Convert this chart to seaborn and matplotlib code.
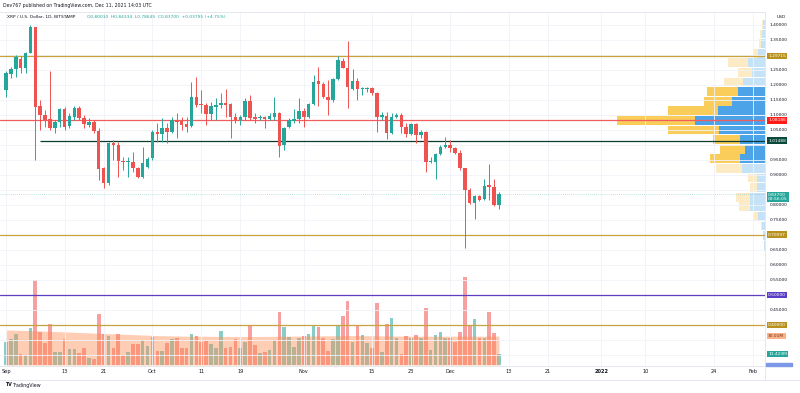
import matplotlib
matplotlib.use("Agg")
import numpy as np
import pandas as pd
import matplotlib.pyplot as plt
import matplotlib.dates as mdates
import matplotlib.transforms as mtransforms
from matplotlib.lines import Line2D
from matplotlib.patches import Rectangle
import seaborn as sns

# XRP / USD daily candles, Bitstamp, 2021-09-01 .. 2021-12-11
start_date = "2021-09-01"

opens = [1.183, 1.237, 1.253, 1.287, 1.256, 1.308, 1.392, 1.130, 1.100, 1.087,
         1.056, 1.078, 1.119, 1.063, 1.094, 1.122, 1.091, 1.067, 1.075, 1.047,
         0.922, 0.872, 1.006, 1.000, 0.947, 0.942, 0.944, 0.922, 0.892, 0.928,
         0.956, 1.042, 1.037, 1.055, 1.044, 1.083, 1.080, 1.069, 1.063, 1.161,
         1.135, 1.133, 1.102, 1.128, 1.133, 1.141, 1.136, 1.094, 1.083, 1.092,
         1.146, 1.094, 1.089, 1.094, 1.086, 1.094, 1.108, 1.000, 1.061, 1.081,
         1.086, 1.114, 1.094, 1.137, 1.213, 1.202, 1.161, 1.150, 1.219, 1.281,
         1.258, 1.187, 1.214, 1.188, 1.188, 1.189, 1.172, 1.092, 1.097, 1.039,
         1.094, 1.100, 1.061, 1.037, 1.070, 1.033, 1.044, 0.942, 0.944, 0.970,
         0.992, 1.000, 0.991, 0.972, 0.922, 0.850, 0.808, 0.830, 0.819, 0.866,
         0.859, 0.8001]
highs = [1.245, 1.261, 1.300, 1.295, 1.311, 1.400, 1.394, 1.150, 1.117, 1.245,
         1.083, 1.122, 1.126, 1.106, 1.130, 1.130, 1.100, 1.089, 1.083, 1.056,
         0.928, 1.011, 1.017, 1.011, 0.961, 0.961, 0.978, 0.928, 0.994, 0.961,
         1.050, 1.072, 1.089, 1.072, 1.094, 1.106, 1.094, 1.094, 1.211, 1.228,
         1.183, 1.139, 1.144, 1.156, 1.172, 1.186, 1.139, 1.106, 1.100, 1.156,
         1.167, 1.106, 1.100, 1.097, 1.106, 1.161, 1.111, 1.061, 1.089, 1.119,
         1.156, 1.122, 1.139, 1.233, 1.261, 1.211, 1.217, 1.222, 1.297, 1.289,
         1.348, 1.252, 1.222, 1.194, 1.194, 1.194, 1.175, 1.111, 1.111, 1.106,
         1.106, 1.106, 1.072, 1.072, 1.072, 1.050, 1.048, 0.961, 0.972, 1.000,
         1.028, 1.017, 0.994, 0.983, 0.922, 0.856, 0.833, 0.833, 0.886, 0.937,
         0.887, 0.84334]
lows = [1.161, 1.222, 1.226, 1.239, 1.239, 1.306, 0.950, 1.050, 1.061, 1.050,
        1.039, 1.061, 1.050, 1.056, 1.083, 1.083, 1.056, 1.061, 1.039, 0.883,
        0.856, 0.867, 0.950, 0.894, 0.917, 0.894, 0.911, 0.889, 0.889, 0.922,
        0.950, 1.011, 1.011, 1.006, 1.039, 1.022, 1.050, 1.044, 1.061, 1.128,
        1.106, 1.067, 1.083, 1.083, 1.122, 1.094, 1.022, 1.072, 1.067, 1.083,
        1.083, 1.072, 1.083, 1.056, 1.083, 1.083, 0.961, 0.983, 1.056, 1.072,
        1.072, 1.061, 1.089, 1.133, 1.130, 1.156, 1.100, 1.144, 1.217, 1.256,
        1.122, 1.183, 1.150, 1.167, 1.178, 1.167, 1.044, 1.083, 1.019, 1.036,
        1.089, 1.039, 1.028, 1.033, 1.006, 1.022, 0.911, 0.939, 0.887, 0.967,
        0.989, 0.978, 0.969, 0.917, 0.656, 0.803, 0.752, 0.813, 0.817, 0.817,
        0.797, 0.78645]
closes = [1.239, 1.253, 1.292, 1.256, 1.306, 1.392, 1.128, 1.100, 1.083, 1.056,
          1.078, 1.119, 1.061, 1.097, 1.122, 1.091, 1.069, 1.078, 1.047, 0.919,
          0.872, 1.006, 1.000, 0.947, 0.943, 0.945, 0.922, 0.894, 0.939, 0.952,
          1.042, 1.037, 1.055, 1.044, 1.083, 1.078, 1.067, 1.061, 1.161, 1.133,
          1.132, 1.102, 1.130, 1.133, 1.141, 1.133, 1.094, 1.083, 1.092, 1.146,
          1.089, 1.086, 1.094, 1.086, 1.097, 1.108, 0.997, 1.056, 1.083, 1.086,
          1.114, 1.094, 1.137, 1.211, 1.203, 1.159, 1.150, 1.219, 1.283, 1.258,
          1.194, 1.214, 1.187, 1.191, 1.191, 1.172, 1.092, 1.100, 1.039, 1.092,
          1.100, 1.061, 1.037, 1.070, 1.033, 1.044, 0.942, 0.948, 0.970, 0.992,
          1.000, 0.991, 0.972, 0.922, 0.850, 0.808, 0.830, 0.817, 0.863, 0.859,
          0.800, 0.837]

# volume in millions and its moving average (orange area)
volume_m = [23.9, 27.0, 32.2, 11.4, 10.4, 38.5, 88.4, 34.3, 22.9, 42.6,
            13.5, 13.5, 27.0, 16.6, 16.6, 12.5, 17.7, 7.3, 6.2, 53.0,
            32.2, 30.2, 17.7, 32.2, 10.4, 13.5, 21.8, 21.8, 26.0, 19.8,
            29.1, 14.6, 14.6, 22.9, 27.0, 28.1, 17.7, 17.7, 32.2, 30.2,
            23.9, 25.0, 21.8, 17.7, 35.4, 17.7, 18.7, 27.0, 17.7, 23.9,
            40.6, 20.8, 12.5, 13.5, 15.6, 26.0, 55.1, 39.5, 29.1, 18.7,
            28.1, 30.2, 32.2, 40.6, 39.5, 28.1, 14.6, 27.0, 40.6, 51.0,
            66.6, 23.9, 40.6, 31.2, 22.9, 17.7, 64.5, 13.5, 42.6, 48.9,
            28.1, 11.4, 30.2, 28.1, 31.2, 28.1, 59.3, 15.6, 31.2, 34.3,
            28.1, 28.1, 23.9, 34.3, 91.5, 40.6, 47.8, 28.1, 28.1, 55.1,
            33.3, 11.423]
volume_ma_m = [36.4, 36.4, 36.2, 36.0, 35.9, 35.7, 35.6, 35.4, 35.2, 35.0,
               34.8, 34.6, 34.4, 34.2, 34.0, 33.8, 33.6, 33.4, 33.2, 33.0,
               32.8, 32.6, 32.4, 32.2, 32.0, 31.8, 31.6, 31.4, 31.2, 31.0,
               30.8, 30.6, 30.5, 30.4, 30.3, 30.2, 30.1, 30.0, 30.0, 30.0,
               29.9, 29.9, 29.8, 29.8, 29.8, 29.7, 29.7, 29.7, 29.6, 29.6,
               29.6, 29.6, 29.7, 29.7, 29.8, 29.8, 29.9, 30.0, 30.0, 30.1,
               30.1, 30.2, 30.2, 30.3, 30.3, 30.4, 30.4, 30.4, 30.5, 30.5,
               30.6, 30.6, 30.6, 30.5, 30.5, 30.4, 30.4, 30.3, 30.3, 30.2,
               30.2, 30.1, 30.1, 30.1, 30.0, 30.0, 30.0, 30.0, 30.0, 30.0,
               30.0, 30.0, 30.0, 30.0, 30.0, 30.0, 30.0, 30.0, 30.0, 30.0,
               30.0, 30.01]

# visible range volume profile (row price, up volume, down volume)
profile_price = [1.402, 1.370, 1.338, 1.306, 1.274, 1.242, 1.210, 1.178, 1.146, 1.114,
                 1.082, 1.050, 1.018, 0.986, 0.954, 0.922, 0.890, 0.858, 0.826, 0.794,
                 0.762, 0.730, 0.698, 0.666]
profile_up = [20, 30, 40, 70, 170, 130, 220, 270, 330, 470,
              700, 460, 250, 200, 250, 230, 80, 80, 150, 150,
              70, 30, 20, 10]
profile_down = [10, 20, 20, 50, 200, 140, 190, 310, 280, 500,
                780, 510, 270, 250, 300, 260, 90, 70, 140, 110,
                50, 10, 0, 0]
profile_in_value_area = [False] * 7 + [True] * 8 + [False] * 9

# horizontal levels drawn on the chart
levels = [1.29715, 1.08186, 1.01488, 0.70097, 0.50000, 0.40000]
level_colors = ["#c9a33a", "#f25c5c", "#0d3b2e", "#c9a33a", "#5c3fc0", "#c9a33a"]
level_tag_colors = ["#b8921c", "#ff1a1a", "#0b4a3a", "#b8921c", "#5b3cc4", "#b8921c"]
support_start = "2021-09-08"

tick_dates = ["2021-09-01", "2021-09-13", "2021-09-21", "2021-10-01", "2021-10-11",
              "2021-10-19", "2021-11-01", "2021-11-15", "2021-11-23", "2021-12-01",
              "2021-12-13", "2021-12-21", "2022-01-01", "2022-01-10", "2022-01-24",
              "2022-02-01"]
tick_labels = ["Sep", "13", "21", "Oct", "11", "19", "Nov", "15", "23", "Dec",
               "13", "21", "2022", "10", "24", "Feb"]
# price scale labels not hidden behind the coloured tags
price_ticks = [0.45, 0.55, 0.60, 0.65, 0.75, 0.80, 0.90, 0.95,
               1.05, 1.10, 1.15, 1.20, 1.25, 1.35, 1.40]
grid_prices = [0.30, 0.35, 0.40, 0.45, 0.50, 0.55, 0.60, 0.65, 0.70, 0.75, 0.80,
               0.85, 0.90, 0.95, 1.00, 1.05, 1.10, 1.15, 1.20, 1.25, 1.30, 1.35, 1.40]

UP = "#26a69a"
DOWN = "#ef5350"
TXT = "#131722"

df = pd.DataFrame({"date": pd.date_range(start_date, periods=len(closes), freq="D"),
                   "open": opens, "high": highs, "low": lows, "close": closes,
                   "volume": volume_m, "vol_ma": volume_ma_m})
df["x"] = mdates.date2num(df["date"])
df["dir"] = np.where(df["close"] >= df["open"], "up", "down")
colors = np.where(df["dir"] == "up", UP, DOWN)

sns.set_theme(style="white")
plt.rcParams["font.family"] = ["DejaVu Sans"]

W, H = 800, 393
fig = plt.figure(figsize=(W / 100, H / 100), dpi=100)
fig.patch.set_facecolor("white")
pane = [0, (H - 366) / H, 765 / W, (366 - 12) / H]

x0 = df["x"].iloc[0]
xlim = (x0 - 1.23, x0 + 155.5)
ylim = (0.2633, 1.4433)

# volume pane (bottom layer)
ax_vol = fig.add_axes(pane, zorder=0)
sns.barplot(data=df, x="x", y="volume", hue="dir", palette={"up": UP, "down": DOWN},
            native_scale=True, width=0.74, alpha=0.55, saturation=1, linewidth=0,
            legend=False, ax=ax_vol)
ax_vol.fill_between(df["x"], 0, df["vol_ma"], color="#ff8a4c", alpha=0.42, lw=0, zorder=5)
ax_vol.set_xlim(*xlim)
ax_vol.set_ylim(-1.04, 353 * 1.04)
ax_vol.axis("off")

# volume profile (right side)
ax_vp = fig.add_axes(pane, zorder=1)
ax_vp.patch.set_visible(False)
up_c = ["#4da3e8" if va else "#c6e2f6" for va in profile_in_value_area]
dn_c = ["#facd5a" if va else "#fdebc6" for va in profile_in_value_area]
ax_vp.barh(profile_price, profile_up, height=0.029, color=up_c, lw=0)
ax_vp.barh(profile_price, profile_down, left=profile_up, height=0.029, color=dn_c, lw=0)
ax_vp.set_xlim(7650, 0)
ax_vp.set_ylim(*ylim)
ax_vp.axis("off")

# price pane
ax = fig.add_axes(pane, zorder=2)
ax.patch.set_visible(False)
for gp in grid_prices:
    ax.axhline(gp, color="#f0f3fa", lw=0.6, zorder=0)
ax.vlines(df["x"], df["low"], df["high"], colors=colors, lw=0.7, zorder=3)
body = (df["close"] - df["open"]).abs().clip(lower=0.003)
ax.bar(df["x"], body, bottom=df[["open", "close"]].min(axis=1), width=0.72,
       color=colors, lw=0, zorder=4)

for lvl, c in zip(levels, level_colors):
    if lvl == 1.01488:
        ax.hlines(lvl, mdates.date2num(pd.Timestamp(support_start)), xlim[1] + 10,
                  color=c, lw=0.9, zorder=2)
    else:
        ax.axhline(lvl, color=c, lw=0.9, zorder=2)
ax.axhline(closes[-1], color=UP, lw=0.5, ls=(0, (1, 2)), alpha=0.6, zorder=2)

ax.set_xlim(*xlim)
ax.set_ylim(*ylim)
ax.grid(True, axis="x", color="#f0f3fa", lw=0.6)
ax.set_axisbelow(True)
ax.set_xticks(mdates.date2num(pd.to_datetime(tick_dates)))
ax.set_xticklabels(tick_labels)
for t in ax.get_xticklabels():
    if t.get_text() == "2022":
        t.set_fontweight("bold")
ax.yaxis.tick_right()
ax.set_yticks(price_ticks)
ax.set_yticklabels([f"{p:.5f}" for p in price_ticks])
ax.tick_params(axis="x", length=0, pad=2.5, labelsize=3.6, colors=TXT)
ax.tick_params(axis="y", length=0, pad=3.3, labelsize=3.2, colors=TXT)
ax.spines["left"].set_visible(False)
for side in ["top", "right", "bottom"]:
    ax.spines[side].set_color("#e0e3eb")
    ax.spines[side].set_linewidth(0.6)


def tag(text, y, bg, fg="white", trans=None, dy=0):
    ax.annotate(text, xy=(1, y), xycoords=trans or ax.get_yaxis_transform(),
                xytext=(2.2, dy), textcoords="offset points", ha="left", va="center",
                fontsize=3.2, color=fg, linespacing=1.0,
                bbox=dict(boxstyle="square,pad=0.3", fc=bg, ec="none"),
                annotation_clip=False, zorder=20)


for lvl, c in zip(levels, level_tag_colors):
    tag(f"{lvl:.5f}", lvl, c)
tag(f"{closes[-1]:.5f}\n09:56:05", closes[-1], UP, dy=-2.2)

vol_trans = mtransforms.blended_transform_factory(ax.transAxes, ax_vol.transData)
tag("30.01M", volume_ma_m[-1], "#f9b28c", fg="#7a2e0e", trans=vol_trans)
tag(f"{volume_m[-1]:.3f}M", volume_m[-1], UP, trans=vol_trans)
fig.patches.append(Rectangle((766 / W, (H - 366) / H), 26 / W, 3 / H,
                             color="#7c98e6", transform=fig.transFigure, zorder=20))

# header / footer texts
fig.text(3 / W, 1 - 6 / H, "Dev767 published on TradingView.com, Dec 11, 2021 14:03 UTC",
         fontsize=3.3, color=TXT, va="center")
fig.text(7 / W, 1 - 17 / H, "XRP / U.S. Dollar, 1D, BITSTAMP", fontsize=3.2,
         color=TXT, va="center")
fig.text(87 / W, 1 - 17 / H,
         "O0.80010  H0.84334  L0.78645  C0.83700  +0.03795 (+4.75%)",
         fontsize=3.2, color=UP, va="center")
fig.text(777 / W, 1 - 17 / H, "USD", fontsize=3.2, color=TXT, va="center")
fig.text(5 / W, 1 - 385 / H, "TV", fontsize=3.4, color=TXT, va="center", fontweight="bold")
fig.text(13 / W, 1 - 385 / H, "TradingView", fontsize=3.4, color=TXT, va="center")
fig.add_artist(Line2D([0, 1], [1 - 380 / H] * 2, color="#e0e3eb", lw=0.6))
fig.add_artist(Line2D([765 / W] * 2, [1 - 380 / H, 1 - 366 / H], color="#e0e3eb", lw=0.6))

fig.savefig("out.png", dpi=100, facecolor="white")
